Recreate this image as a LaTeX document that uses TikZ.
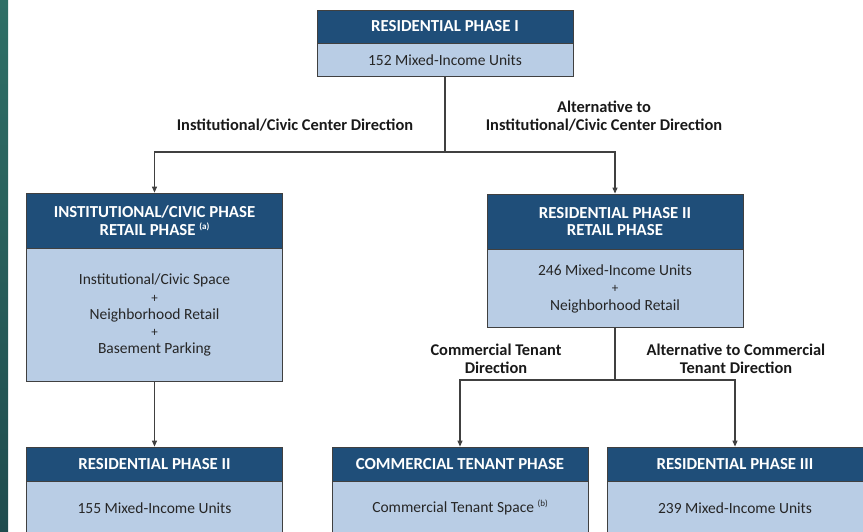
\documentclass[tikz,border=0pt]{standalone}
\usepackage{fontspec}
\setmainfont{Carlito}
\usetikzlibrary{arrows.meta,positioning}
\definecolor{navy}{HTML}{1F4E79}
\definecolor{paleblue}{HTML}{B9CDE5}
\definecolor{tealtop}{HTML}{2F6F66}
\definecolor{tealbot}{HTML}{1F4C4E}
\definecolor{linegray}{HTML}{404040}
\newcommand{\plussign}{{\fontsize{13}{17}\selectfont +}}
\newcommand{\notemark}[1]{\raisebox{6pt}{\fontsize{9}{9}\selectfont(#1)}}
\tikzset{
    header/.style={draw=linegray, fill=navy, text=white, font=\bfseries\fontsize{16.8}{17.5}\selectfont, minimum width=256pt, align=center, inner sep=0pt, line width=0.8pt},
    body/.style={draw=linegray, fill=paleblue, text=black!85, font=\fontsize{15.5}{17.3}\selectfont, minimum width=256pt, align=center, inner sep=0pt, line width=0.8pt},
    flow/.style={-{Triangle[length=6pt, width=5pt]}, linegray, line width=1.1pt},
    link/.style={linegray, line width=1.1pt},
    dirlabel/.style={font=\bfseries\fontsize{16.4}{17.5}\selectfont, align=center, text=black!90}
}

\begin{document}
\begin{tikzpicture}[x=1pt, y=-1pt]
\clip (0,0) rectangle (863,532);
\shade[top color=tealtop, bottom color=tealbot] (0,0) rectangle (8,532);

% phase boxes
\node[header, minimum height=33pt] (res1) at (445,26.5) {RESIDENTIAL PHASE I};
\node[body, minimum height=33pt, below=0pt of res1] (res1b) {152 Mixed-Income Units};

\node[header, minimum height=55pt] (civic) at (154.5,220.5) {INSTITUTIONAL/CIVIC PHASE\\RETAIL PHASE \notemark{a}};
\node[body, minimum height=133pt, below=0pt of civic] (civicb) {Institutional/Civic Space\\\plussign\\Neighborhood Retail\\\plussign\\Basement Parking};

\node[header, minimum height=55pt] (res2) at (615,221.5) {RESIDENTIAL PHASE II\\RETAIL PHASE};
\node[body, minimum height=78pt, below=0pt of res2] (res2b) {246 Mixed-Income Units\\\plussign\\Neighborhood Retail};

\node[header, minimum height=34pt] (res2alt) at (154.5,464) {RESIDENTIAL PHASE II};
\node[body, minimum height=52pt, below=0pt of res2alt] (res2altb) {155 Mixed-Income Units};

\node[header, minimum height=34pt] (comm) at (460,464) {COMMERCIAL TENANT PHASE};
\node[body, minimum height=52pt, below=0pt of comm] (commb) {Commercial Tenant Space \notemark{b}};

\node[header, minimum height=34pt] (res3) at (735,464) {RESIDENTIAL PHASE III};
\node[body, minimum height=52pt, below=0pt of res3] (res3b) {239 Mixed-Income Units};

% direction labels
\node[dirlabel] (civicdir) at (295,125) {Institutional/Civic Center Direction};
\node[dirlabel] (altcivicdir) at (604,116) {Alternative to\\Institutional/Civic Center Direction};
\node[dirlabel] (commdir) at (496,359) {Commercial Tenant\\Direction};
\node[dirlabel] (altcommdir) at (736,359) {Alternative to Commercial\\Tenant Direction};

% connectors
\coordinate (fork1) at (445,152);
\coordinate (fork2) at (615,380);
\draw[link] (res1b.south) -- (fork1);
\draw[flow] (fork1) -| (civic.north);
\draw[flow] (fork1) -| (res2.north);
\draw[link] (res2b.south) -- (fork2);
\draw[flow] (fork2) -| (comm.north);
\draw[flow] (fork2) -| (res3.north);
\draw[flow] (civicb.south) -- (res2alt.north);
\end{tikzpicture}
\end{document}
